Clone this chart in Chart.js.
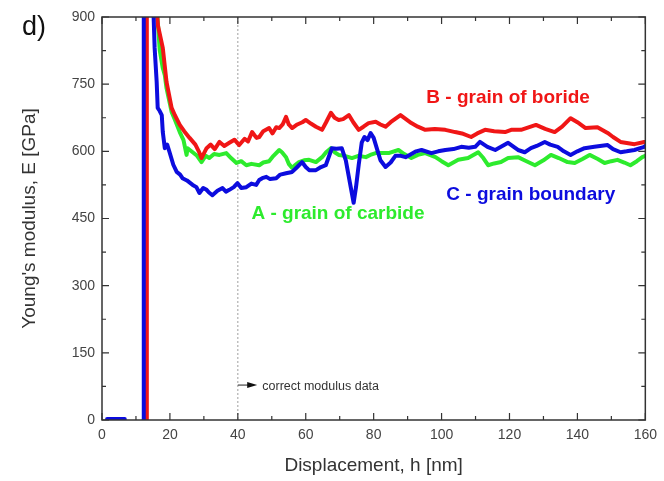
<!DOCTYPE html>
<html>
<head>
<meta charset="utf-8">
<script src="https://cdn.jsdelivr.net/npm/chart.js@4.4.1/dist/chart.umd.min.js"></script>
<style>
html, body { margin: 0; padding: 0; background: #fff; }
#wrap { width: 664px; height: 481px; position: relative; }
</style>
</head>
<body>
<div id="wrap"><canvas id="myChart" width="664" height="481"></canvas></div>
<script>
// displacement h [nm] / Young's modulus E [GPa]
var xBoride = [13.1, 13.2, 15.6, 16.5, 17.9, 19, 20.5, 21.5, 22.9, 24.2, 25.8, 27.5, 28.5, 29.3, 30.8, 32, 33.2, 34.6, 36, 37.5, 39, 40.4, 42, 43, 44.2, 45.5, 46.3, 47.5, 49.2, 50.2, 51.3, 52.2, 53.2, 54.2, 55, 56, 57.5, 59, 60, 61.5, 63, 64.8, 66, 67.4, 68.5, 69.7, 71, 72.7, 74, 75.6, 77, 78.5, 80.6, 82, 83.5, 85, 87.9, 89.5, 91.1, 93, 95.2, 98, 101.1, 104, 106, 108.7, 110.5, 112.8, 115.5, 118.7, 120.5, 123.4, 127.8, 130.5, 133.3, 135.5, 138, 140, 142.4, 145.9, 148.9, 150.5, 152.7, 156.8, 159.7, 160];
var yBoride = [0, 1900, 960, 880, 831, 755, 697, 680, 659, 645, 630, 615, 600, 585, 607, 615, 605, 621, 612, 619, 626, 614, 628, 622, 643, 630, 632, 645, 652, 640, 654, 652, 660, 677, 660, 652, 660, 665, 670, 662, 655, 648, 665, 686, 675, 670, 672, 681, 665, 648, 655, 663, 666, 660, 655, 665, 681, 672, 663, 655, 648, 650, 648, 643, 640, 632, 640, 648, 645, 643, 648, 648, 659, 650, 643, 655, 674, 665, 652, 654, 641, 632, 621, 616, 621, 620];

var xCarbide = [12.5, 12.6, 15.8, 17, 17.9, 18.5, 19, 20.5, 21.5, 22.9, 24, 24.9, 25.2, 26.7, 28, 29.3, 30.5, 31.6, 33, 34.6, 36.6, 38, 39.6, 41, 42.5, 44, 46.3, 47.5, 49.2, 50.5, 52.2, 53, 54.2, 55, 56, 57, 58, 59.5, 61, 63, 64.8, 66, 67.4, 68.5, 69.7, 71.5, 73.6, 75.5, 77.7, 79, 80.6, 83.5, 84.4, 87.3, 89, 91.1, 93, 95.2, 98.2, 100, 102, 104.9, 107.8, 110.8, 112.3, 113.7, 115.5, 117.5, 119.6, 122.5, 125, 127.5, 130, 132.2, 134.5, 137.1, 139.2, 141.5, 143.6, 146, 148, 150, 151.8, 153.8, 155.6, 157.5, 159.1, 160];
var yCarbide = [0, 1900, 960, 826, 786, 770, 741, 688, 670, 643, 625, 592, 607, 598, 590, 576, 590, 585, 594, 592, 596, 585, 574, 578, 569, 572, 569, 575, 578, 590, 603, 598, 587, 572, 563, 570, 576, 580, 581, 576, 587, 598, 607, 598, 592, 590, 585, 590, 587, 592, 596, 596, 596, 603, 594, 585, 592, 596, 587, 578, 569, 581, 585, 598, 585, 569, 573, 576, 585, 587, 578, 569, 580, 592, 585, 576, 574, 583, 592, 583, 574, 578, 581, 575, 569, 578, 587, 590];

var xBoundary = [1.5, 6.7, 9, 12.2, 12.3, 14.9, 15.2, 15.5, 16.1, 16.4, 17, 17.6, 17.9, 18.5, 19.2, 19.9, 21, 22, 23, 23.7, 25, 26.7, 27.8, 28.7, 29.8, 30.8, 31.5, 32.5, 34, 35.5, 36.5, 37.5, 38.8, 39.9, 41, 42.5, 44, 45.4, 46.3, 47.2, 48.4, 49.5, 51.3, 52.5, 54.2, 56, 57.5, 58.9, 60, 61, 63, 64.5, 65.9, 67.7, 69, 70.6, 71.8, 73, 74.1, 74.8, 75.6, 76.5, 77.3, 78.2, 79.1, 80, 81, 82, 83.5, 85, 86.4, 88, 89.4, 91.1, 92.5, 94.1, 97, 99, 101.1, 103.5, 105.8, 108, 109.9, 111.3, 113.5, 115.8, 117.5, 119.6, 122.5, 124.5, 126.3, 128, 130.4, 132, 134.2, 136, 138, 140, 142.1, 145, 148.9, 150.5, 152.7, 154.5, 156.8, 158.5, 159.7, 160];
var yBoundary = [2, 2, null, 0, 1900, 960, 900, 831, 755, 697, 690, 681, 643, 607, 615, 598, 570, 554, 548, 540, 535, 525, 520, 507, 518, 514, 508, 502, 512, 518, 510, 514, 520, 529, 518, 520, 528, 525, 536, 540, 543, 538, 540, 548, 551, 554, 565, 576, 565, 558, 558, 565, 569, 607, 606, 607, 580, 530, 485, 520, 570, 620, 632, 625, 641, 630, 605, 580, 565, 575, 590, 590, 587, 594, 600, 603, 596, 600, 603, 605, 610, 608, 610, 621, 610, 603, 610, 619, 603, 598, 607, 612, 621, 615, 610, 600, 592, 600, 607, 610, 614, 605, 598, 600, 603, 607, 610, 612];

var xTicks = [0, 20, 40, 60, 80, 100, 120, 140, 160];
var yTicks = [0, 150, 300, 450, 600, 750, 900];
var cutoff = 40;

var RED = 'rgb(240,22,22)';
var GREEN = 'rgb(45,235,45)';
var BLUE = 'rgb(12,12,222)';
var FONT = "'Liberation Sans', Arial, sans-serif";

function pts(xs, ys) {
    return xs.map(function (x, i) { return { x: x, y: ys[i] }; });
}

var framePlugin = {
    id: 'frame',
    beforeDatasetsDraw: function (chart) {
        var ctx = chart.ctx, a = chart.chartArea;
        var x = chart.scales.x.getPixelForValue(cutoff);
        ctx.save();
        ctx.strokeStyle = '#a0a0a0';
        ctx.lineWidth = 1;
        ctx.setLineDash([2, 2]);
        ctx.beginPath();
        ctx.moveTo(x, a.top);
        ctx.lineTo(x, a.bottom);
        ctx.stroke();
        ctx.restore();
    },
    afterDatasetsDraw: function (chart) {
        var ctx = chart.ctx, a = chart.chartArea;
        var sx = chart.scales.x, sy = chart.scales.y;
        ctx.save();
        ctx.strokeStyle = '#333';
        ctx.lineWidth = 1.5;
        ctx.strokeRect(a.left, a.top, a.right - a.left, a.bottom - a.top);
        ctx.lineWidth = 1.2;
        ctx.beginPath();
        for (var v = 0; v <= 160; v += 10) {
            var px = sx.getPixelForValue(v), len = (v % 20 === 0) ? 7 : 4;
            ctx.moveTo(px, a.bottom); ctx.lineTo(px, a.bottom - len);
            ctx.moveTo(px, a.top); ctx.lineTo(px, a.top + len);
        }
        for (var w = 0; w <= 900; w += 75) {
            var py = sy.getPixelForValue(w), l2 = (w % 150 === 0) ? 7 : 4;
            ctx.moveTo(a.left, py); ctx.lineTo(a.left + l2, py);
            ctx.moveTo(a.right, py); ctx.lineTo(a.right - l2, py);
        }
        ctx.stroke();

        // series labels
        ctx.textBaseline = 'middle';
        ctx.textAlign = 'left';
        ctx.font = 'bold 19px ' + FONT;
        ctx.fillStyle = RED;
        ctx.fillText('B - grain of boride', sx.getPixelForValue(95.5), sy.getPixelForValue(719));
        ctx.fillStyle = BLUE;
        ctx.fillText('C - grain boundary', sx.getPixelForValue(101.4), sy.getPixelForValue(502));
        ctx.fillStyle = GREEN;
        ctx.fillText('A - grain of carbide', sx.getPixelForValue(44), sy.getPixelForValue(460));

        // arrow + note
        var ax = sx.getPixelForValue(cutoff), ay = sy.getPixelForValue(78);
        var tip = sx.getPixelForValue(45.7);
        ctx.strokeStyle = '#222';
        ctx.lineWidth = 1;
        ctx.beginPath();
        ctx.moveTo(ax, ay); ctx.lineTo(tip - 6, ay);
        ctx.stroke();
        ctx.fillStyle = '#111';
        ctx.beginPath();
        ctx.moveTo(tip, ay); ctx.lineTo(tip - 10, ay - 3); ctx.lineTo(tip - 10, ay + 3);
        ctx.closePath();
        ctx.fill();
        ctx.font = '12.5px ' + FONT;
        ctx.fillStyle = '#333';
        ctx.fillText('correct modulus data', sx.getPixelForValue(47.2), ay + 1);

        // panel letter
        ctx.font = '27px ' + FONT;
        ctx.fillStyle = '#111';
        ctx.fillText('d)', 22, 28);
        ctx.restore();
    }
};

var ctx = document.getElementById('myChart').getContext('2d');
var chart = new Chart(ctx, {
    type: 'line',
    data: {
        datasets: [
            { label: 'C - grain boundary', data: pts(xBoundary, yBoundary), borderColor: BLUE, order: 0 },
            { label: 'B - grain of boride', data: pts(xBoride, yBoride), borderColor: RED, order: 1 },
            { label: 'A - grain of carbide', data: pts(xCarbide, yCarbide), borderColor: GREEN, order: 2 }
        ]
    },
    options: {
        responsive: false,
        animation: false,
        spanGaps: false,
        layout: { padding: { left: 0, top: 17, right: 16, bottom: 0 } },
        elements: {
            point: { radius: 0 },
            line: { borderWidth: 4, tension: 0, borderJoinStyle: 'round', borderCapStyle: 'round' }
        },
        plugins: { legend: { display: false }, tooltip: { enabled: false } },
        scales: {
            x: {
                type: 'linear', min: 0, max: 160,
                afterFit: function (s) { s.height = 61; },
                afterBuildTicks: function (s) { s.ticks = xTicks.map(function (v) { return { value: v }; }); },
                grid: { display: false, drawTicks: false },
                border: { display: false },
                ticks: { padding: 7, color: '#444', font: { family: FONT, size: 14 } },
                title: { display: true, text: 'Displacement, h [nm]', color: '#333',
                         font: { family: FONT, size: 19 }, padding: { top: 0, bottom: 4 } }
            },
            y: {
                type: 'linear', min: 0, max: 900,
                afterFit: function (s) { s.width = 102; },
                afterBuildTicks: function (s) { s.ticks = yTicks.map(function (v) { return { value: v }; }); },
                grid: { display: false, drawTicks: false },
                border: { display: false },
                ticks: { padding: 7, color: '#444', font: { family: FONT, size: 14 } },
                title: { display: true, text: "Young's modulus, E [GPa]", color: '#333',
                         font: { family: FONT, size: 19 }, padding: { top: 18, bottom: 0 } }
            }
        }
    },
    plugins: [framePlugin]
});
</script>
</body>
</html>
